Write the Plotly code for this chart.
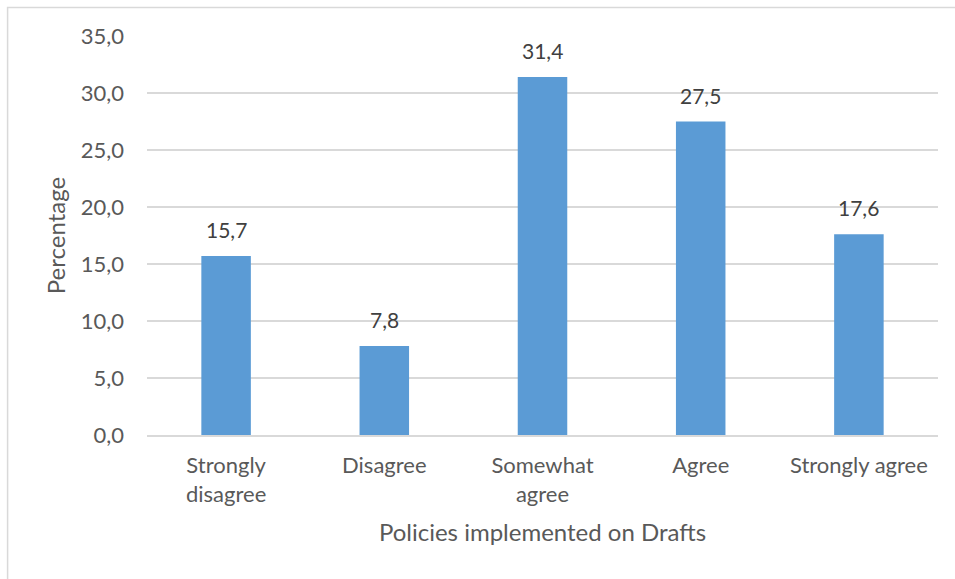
import plotly.graph_objects as go

categories = ["Strongly<br>disagree", "Disagree", "Somewhat<br>agree", "Agree", "Strongly agree"]
percentages = [15.7, 7.8, 31.4, 27.5, 17.6]
y_ticks = [0, 5, 10, 15, 20, 25, 30, 35]

W, H = 955, 579
L, R, T, B = 146.5, 17, 36, 144
pw, ph = W - L - R, H - T - B

FONT = "Lato"
BAR = "#5B9BD5"

fig = go.Figure()
fig.add_trace(go.Bar(
    x=categories,
    y=percentages,
    marker=dict(color=BAR, line=dict(width=0)),
    showlegend=False,
))

# value labels above each bar
for c, v in zip(categories, percentages):
    fig.add_annotation(
        x=c, y=v, text=f"{v:.1f}".replace(".", ","),
        showarrow=False, yanchor="bottom", yshift=12,
        font=dict(family=FONT, size=21, color="#404040"),
    )

# light outer frame of the chart area
fig.add_shape(
    type="rect", xref="paper", yref="paper",
    x0=(7 - L) / pw, x1=(W + 20 - L) / pw,
    y0=-(B + 20) / ph, y1=1 + (T - 7.5) / ph,
    line=dict(color="#D9D9D9", width=1.5), fillcolor="rgba(0,0,0,0)",
    layer="below",
)

fig.update_layout(
    width=W, height=H,
    margin=dict(l=L, r=R, t=T, b=B, pad=0),
    paper_bgcolor="white", plot_bgcolor="white",
    bargap=0.687,
    separators=",.",
    font=dict(family=FONT, color="#595959", size=22),
    xaxis=dict(
        showgrid=False, showline=True, linecolor="#D9D9D9", linewidth=1.5,
        ticks="", tickfont=dict(family=FONT, size=22, color="#595959"),
        ticklabelstandoff=10,
        title=dict(text="Policies implemented on Drafts", standoff=18,
                   font=dict(family=FONT, size=24, color="#595959")),
    ),
    yaxis=dict(
        range=[0, 35], tickvals=y_ticks, tickformat=".1f",
        showgrid=True, gridcolor="#D9D9D9", gridwidth=1.5,
        zeroline=False, showline=False, ticks="",
        ticklabelstandoff=22,
        tickfont=dict(family=FONT, size=22, color="#595959"),
        title=dict(text="Percentage", standoff=8,
                   font=dict(family=FONT, size=24, color="#595959")),
    ),
)

fig.write_html("out.html")
